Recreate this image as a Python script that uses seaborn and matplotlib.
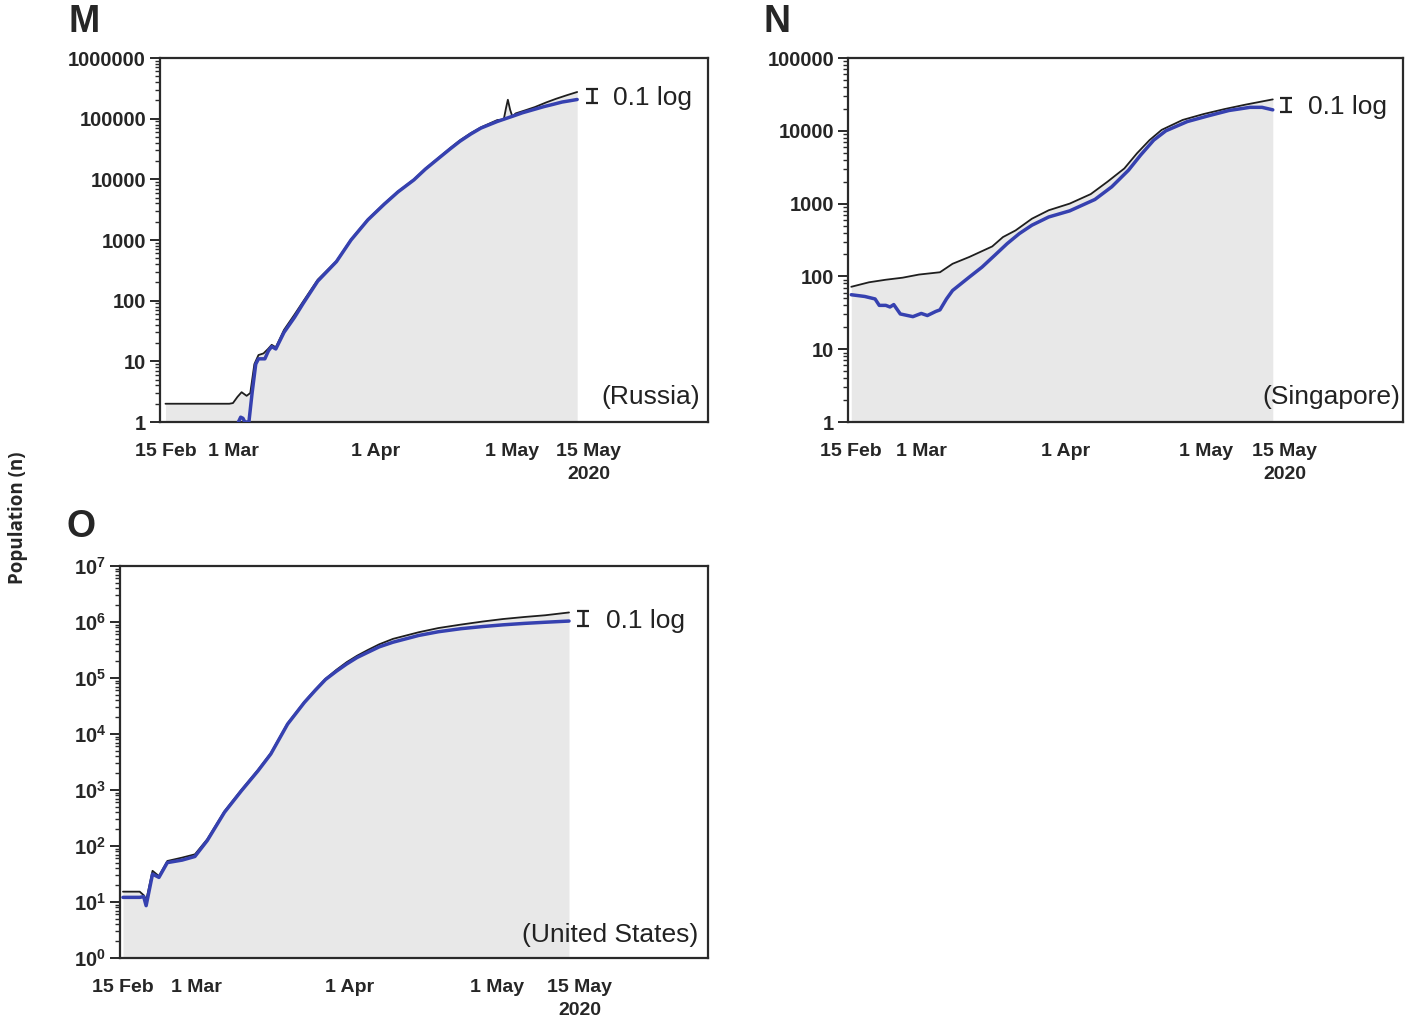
import numpy as np
import pandas as pd
import matplotlib
matplotlib.use("Agg")
import matplotlib.pyplot as plt
import seaborn as sns
from matplotlib.ticker import FixedLocator, LogLocator, FuncFormatter, NullFormatter

# ---------------- data (x = days since 15 Feb 2020) ----------------
tick_days = [0, 15, 46, 76, 90]
tick_labels = ["15 Feb", "1 Mar", "1 Apr", "1 May", "15 May\n2020"]

russia_black_day = [0, 14, 14.8, 15.8, 16.7, 17.8, 18.6, 19.5, 20.4, 21.5, 22.5, 23.3, 24.2,
                    26, 28.3, 30.2, 33.4, 37.5, 40.7, 44.4, 48, 51, 54.5, 57, 60, 62.5, 64.6,
                    67, 69.2, 72.8, 74.2, 74.7, 75.1, 75.6, 76.1, 76.8, 79, 81, 83.5, 85.7,
                    88, 90.3]
russia_black_val = [2, 2, 2.05, 2.6, 3.1, 2.7, 3.0, 9, 12.7, 13.5, 16, 18.7, 17,
                    33, 59, 97, 222, 450, 1025, 2200, 4000, 6300, 10000, 15000, 23000, 33000, 44000,
                    58000, 72000, 95000, 97000, 150000, 205000, 140000, 108000, 122000, 138000,
                    155000, 185000, 213000, 243000, 275000]

russia_blue_day = [16, 16.5, 17, 17.4, 18.3, 19, 19.8, 20.4, 21.8, 22.6, 23.3, 24.2,
                   26, 28.3, 30.2, 33.4, 37.5, 40.7, 44.4, 48, 51, 54.5, 57, 60, 62.5, 64.6,
                   67, 69.2, 72.8, 76.5, 78.3, 81, 83, 85, 87, 88.8, 90.3]
russia_blue_val = [1, 1.2, 1.15, 1, 1, 3, 9, 11, 11, 15, 17.5, 16,
                   30, 53, 90, 210, 440, 1000, 2150, 3900, 6200, 9800, 14700, 22500, 32000, 42500,
                   56000, 70000, 90000, 112000, 125000, 143000, 158000, 172000, 188000, 198000, 207000]

sing_black_day = [0, 3.8, 7.4, 11, 14.5, 19, 21.7, 25.3, 30.2, 32.5, 35.2, 38.7, 42.3,
                  46.8, 51.3, 54.9, 58.5, 61.2, 63.9, 66.5, 71, 75.5, 80, 84.5, 90.3]
sing_black_val = [72, 83, 90, 96, 106, 114, 149, 185, 258, 347, 428, 620, 810,
                  1000, 1350, 2000, 3040, 4900, 7450, 10300, 14100, 17000, 19900, 22900, 27000]

sing_blue_day = [0, 2.9, 5.1, 6, 7.4, 8.3, 9.1, 10.5, 13.2, 15, 16.3, 18.1, 19, 20.4, 21.7,
                 25.3, 28, 30.7, 33.4, 36, 38.7, 42.3, 46.8, 52.2, 55.8, 59.4, 62, 64.8,
                 67.4, 72, 76.4, 80.9, 85.4, 88, 90.3]
sing_blue_val = [56, 53, 49, 40, 40, 38, 41, 30.5, 28, 31, 29, 33, 34.7, 49, 64,
                 98, 134, 194, 282, 387, 505, 655, 795, 1140, 1700, 2880, 4650, 7450,
                 10000, 13400, 16000, 19000, 21000, 21000, 19400]

us_black_day = [0, 3.4, 4.3, 4.7, 6, 7.3, 9, 12, 14.6, 17.1, 20.6, 24, 27.4, 30, 33.4,
                36.8, 39, 41.1, 43.3, 45.4, 47.5, 49.7, 52, 54.8, 60, 64, 68.6, 73, 77.1,
                81.5, 85.7, 90.5]
us_black_val = [15.3, 15.3, 13, 10.6, 36, 29, 54, 62, 71, 132, 418, 1000, 2290, 4560, 15500,
                37600, 62000, 97000, 140000, 192000, 250000, 317000, 400000, 500000, 656000,
                780000, 900000, 1020000, 1130000, 1230000, 1320000, 1480000]

us_blue_day = [0, 3.4, 4.2, 4.7, 6, 7.3, 9, 12, 14.6, 17.1, 20.6, 24, 27.4, 30, 33.4,
               36.8, 39, 41.1, 43.3, 45.4, 47.5, 49.7, 52, 54.8, 60, 64, 68.6, 73, 77.1,
               81.5, 85.7, 90.5]
us_blue_val = [12.1, 12.1, 12.5, 8.6, 31.5, 27.5, 50.5, 56, 65, 125, 400, 960, 2200, 4400, 15000,
               36500, 60000, 94000, 132000, 178000, 232000, 288000, 360000, 436000, 575000,
               670000, 760000, 830000, 890000, 945000, 990000, 1040000]

# ---------------- style ----------------
sns.set_style("ticks")
plt.rcParams["font.family"] = ["Liberation Sans", "DejaVu Sans"]
plt.rcParams["mathtext.fontset"] = "custom"
plt.rcParams["mathtext.rm"] = "Liberation Sans:bold"
plt.rcParams["mathtext.bf"] = "Liberation Sans:bold"
plt.rcParams["mathtext.it"] = "Liberation Sans:bold"

BLUE = "#3641b0"
BLACK = "#1e1e1e"
FILL = "#e8e8e8"
SPINE = "#2a2a2a"
TICKFS = 14
XPAD = 15

fig = plt.figure(figsize=(14.15, 10.28), dpi=100)


def px_axes(left, top, right, bottom):
    W, H = 1415, 1028
    return fig.add_axes([left / W, 1 - bottom / H, (right - left) / W, (bottom - top) / H])


def draw_panel(ax, bday, bval, lday, lval, ylim, xlim, country, sci, bar_pos, text_pos, country_pos):
    ax.set_yscale("log")
    ax.fill_between(bday, bval, ylim[0], color=FILL, linewidth=0, zorder=1)
    sns.lineplot(x=bday, y=bval, ax=ax, color=BLACK, linewidth=1.3, estimator=None, sort=False, zorder=3)
    sns.lineplot(x=lday, y=lval, ax=ax, color=BLUE, linewidth=2.5, estimator=None, sort=False, zorder=4)
    ax.set_xlim(*xlim)
    ax.set_ylim(*ylim)

    decades = [10 ** k for k in range(int(round(np.log10(ylim[0]))), int(round(np.log10(ylim[1]))) + 1)]
    ax.yaxis.set_major_locator(FixedLocator(decades))
    ax.yaxis.set_minor_locator(LogLocator(base=10, subs=np.arange(2, 10), numticks=50))
    ax.yaxis.set_minor_formatter(NullFormatter())
    if sci:
        ax.yaxis.set_major_formatter(FuncFormatter(lambda v, p: r"$10^{%d}$" % int(round(np.log10(v)))))
    else:
        ax.yaxis.set_major_formatter(FuncFormatter(lambda v, p: "%d" % int(round(v))))

    # x ticks: last label is shifted a little to the right, as in the original
    ax.set_xticks(tick_days)
    ax.set_xticklabels(tick_labels[:-1] + [""], fontsize=TICKFS, fontweight="bold")
    ax.annotate(tick_labels[-1], xy=(tick_days[-1], 0), xycoords=ax.get_xaxis_transform(),
                xytext=(9.5, -XPAD), textcoords="offset points", ha="center", va="top",
                fontsize=TICKFS, fontweight="bold", linespacing=1.45)

    ax.tick_params(axis="x", length=0, pad=XPAD)
    ax.tick_params(axis="y", which="major", length=7, width=1.4, direction="out", pad=3,
                   labelsize=14.5, color=SPINE)
    ax.tick_params(axis="y", which="minor", length=3.5, width=1.0, direction="out", color=SPINE)
    for lbl in ax.get_yticklabels():
        lbl.set_fontweight("bold")
    for s in ax.spines.values():
        s.set_visible(True)
        s.set_linewidth(1.6)
        s.set_color(SPINE)
    ax.set_xlabel("")
    ax.set_ylabel("")

    # 0.1 log scale bar
    ax.errorbar([bar_pos[0]], [bar_pos[1]], yerr=[0.019], transform=ax.transAxes, color="#222222",
                capsize=4.5, capthick=1.6, elinewidth=1.8, fmt="none", clip_on=False, zorder=5)
    ax.text(text_pos[0], text_pos[1], "0.1 log", transform=ax.transAxes, ha="left", va="center",
            fontsize=19, color="#222222")
    ax.text(country_pos[0], country_pos[1], country, transform=ax.transAxes, ha="right", va="center",
            fontsize=19, color="#222222")


axM = px_axes(160, 58, 708, 422)
draw_panel(axM, russia_black_day, russia_black_val, russia_blue_day, russia_blue_val,
           (1, 1e6), (-1.2, 119), "(Russia)", False,
           (0.788, 0.896), (0.827, 0.890), (0.985, 0.069))

axN = px_axes(848, 58, 1403, 422)
draw_panel(axN, sing_black_day, sing_black_val, sing_blue_day, sing_blue_val,
           (1, 1e5), (-0.7, 118.2), "(Singapore)", False,
           (0.789, 0.871), (0.829, 0.865), (0.995, 0.069))

axO = px_axes(120, 566, 708, 958)
draw_panel(axO, us_black_day, us_black_val, us_blue_day, us_blue_val,
           (1, 1e7), (-0.6, 118.7), "(United States)", True,
           (0.787, 0.867), (0.827, 0.860), (0.983, 0.059))

# panel letters
fig.text(84 / 1415, 1 - 22 / 1028, "M", fontsize=27, fontweight="bold", ha="center", va="center")
fig.text(777 / 1415, 1 - 22 / 1028, "N", fontsize=27, fontweight="bold", ha="center", va="center")
fig.text(81 / 1415, 1 - 527 / 1028, "O", fontsize=27, fontweight="bold", ha="center", va="center")

fig.text(18 / 1415, 1 - 518 / 1028, "Population (n)", rotation=90, fontsize=13.5, fontweight="bold",
         family=["Open Sans", "DejaVu Sans"], ha="center", va="center")

fig.savefig("out.png", dpi=100)
